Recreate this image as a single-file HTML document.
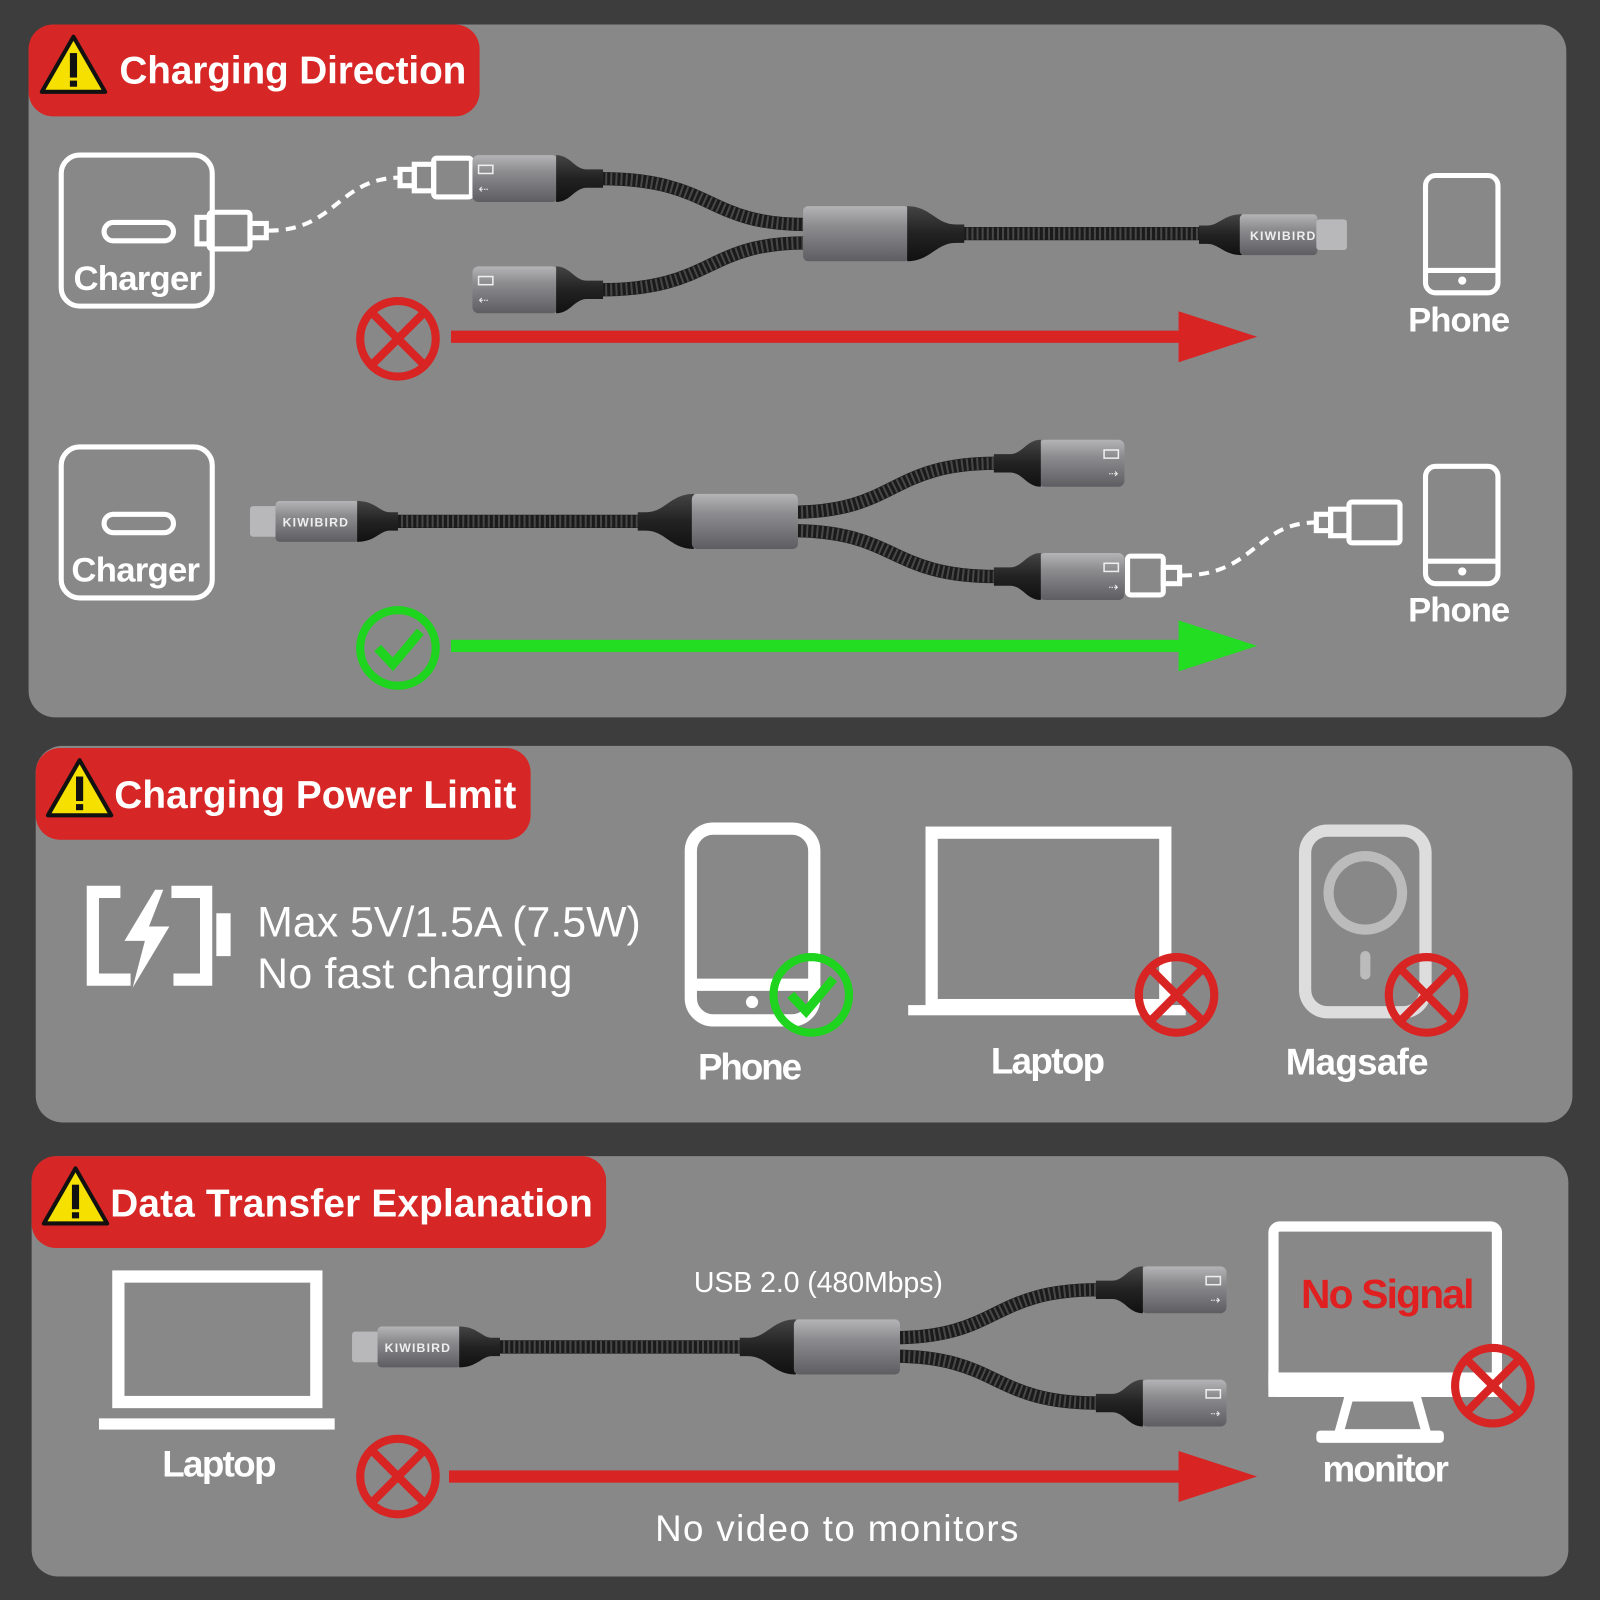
<!DOCTYPE html>
<html><head><meta charset="utf-8"><style>html,body{margin:0;padding:0;background:#3c3c3c}svg{display:block}text{font-family:"Liberation Sans",sans-serif}</style></head><body>
<svg width="1600" height="1600" viewBox="0 0 1568 1568" xmlns="http://www.w3.org/2000/svg">
<defs>
<linearGradient id="mg" x1="0" y1="0" x2="0" y2="1"><stop offset="0" stop-color="#b4b4b6"/><stop offset=".35" stop-color="#8d8d90"/><stop offset="1" stop-color="#5e5e62"/></linearGradient>
<linearGradient id="bg" x1="0" y1="0" x2="0" y2="1"><stop offset="0" stop-color="#444"/><stop offset=".5" stop-color="#222"/><stop offset="1" stop-color="#111"/></linearGradient>
<g id="fem"><rect x="0" y="-23" width="84" height="46" rx="6" fill="url(#mg)"/><path d="M82,-23 C96,-23 100,-9 112,-9 L128,-9 L128,9 L112,9 C100,9 96,23 82,23 Z" fill="url(#bg)"/><rect x="6" y="-13" width="14" height="8" fill="none" stroke="#eee" stroke-width="1.5"/><text x="6" y="14" font-size="12" fill="#eee">⇠</text></g>
<g id="spl"><rect x="0" y="-27" width="104" height="54" rx="5" fill="url(#mg)"/><path d="M102,-27 C125,-27 130,-9 150,-9 L158,-9 L158,9 L150,9 C130,9 125,27 102,27 Z" fill="url(#bg)"/></g>
<g id="splL"><path d="M55,-27 C32,-27 27,-9 8,-9 L0,-9 L0,9 L8,9 C27,9 32,27 55,27 Z" fill="url(#bg)"/><rect x="53" y="-27" width="104" height="54" rx="5" fill="url(#mg)"/></g>
<g id="mal"><path d="M0,-9 L8,-9 C20,-9 24,-20 42,-20 L42,20 C24,20 20,9 8,9 L0,9 Z" fill="url(#bg)"/><rect x="40" y="-20" width="76" height="40" rx="4" fill="url(#mg)"/><text x="50" y="5" font-size="12" fill="#eee" font-weight="bold" textLength="64">KIWIBIRD</text><rect x="115" y="-15" width="30" height="30" rx="3" fill="#b8b8ba"/></g>
<g id="malL"><rect x="0" y="-15" width="30" height="30" rx="3" fill="#b8b8ba"/><rect x="25" y="-20" width="82" height="40" rx="4" fill="url(#mg)"/><text x="32" y="5" font-size="12" fill="#eee" font-weight="bold" textLength="64">KIWIBIRD</text><path d="M105,-20 C123,-20 127,-9 137,-9 L145,-9 L145,9 L137,9 C127,9 123,20 105,20 Z" fill="url(#bg)"/></g>
<g id="warn"><path d="M0,-28 L31,26 L-31,26 Z" fill="#f5e000" stroke="#111" stroke-width="4" stroke-linejoin="round"/><rect x="-3.5" y="-12" width="7" height="24" fill="#111"/><rect x="-3.5" y="15" width="7" height="6" fill="#111"/></g>
<g id="xc"><circle r="37" fill="none" stroke="#d92424" stroke-width="8"/><path d="M-24,-24 L24,24 M24,-24 L-24,24" stroke="#d92424" stroke-width="8"/></g>
<g id="ck"><circle r="37" fill="none" stroke="#1ed41e" stroke-width="8"/><path d="M-20,0 L-5,16 L22,-16" fill="none" stroke="#1ed41e" stroke-width="9"/></g>
</defs>
<rect width="1568" height="1568" fill="#3d3d3d"/>
<!-- panels -->
<rect x="28" y="24" width="1507" height="679" rx="26" fill="#888888"/>
<rect x="35" y="731" width="1506" height="369" rx="26" fill="#888888"/>
<rect x="31" y="1133" width="1506" height="412" rx="26" fill="#888888"/>
<!-- titles -->
<rect x="28" y="24" width="442" height="90" rx="24" fill="#d62626"/>
<use href="#warn" x="72" y="64"/>
<text x="117" y="82" font-size="38" font-weight="bold" fill="#fff" textLength="340">Charging Direction</text>
<rect x="35" y="733" width="485" height="90" rx="24" fill="#d62626"/>
<use href="#warn" x="78" y="773"/>
<text x="112" y="792" font-size="38" font-weight="bold" fill="#fff" textLength="394">Charging Power Limit</text>
<rect x="31" y="1133" width="563" height="90" rx="24" fill="#d62626"/>
<use href="#warn" x="74" y="1173"/>
<text x="108" y="1192" font-size="38" font-weight="bold" fill="#fff" textLength="473">Data Transfer Explanation</text>

<g fill="none" stroke="#fff" stroke-width="5">
<!-- charger 1 -->
<rect x="60" y="152" width="148" height="148" rx="18"/>
<rect x="102" y="218" width="68" height="18" rx="9"/>
<rect x="205" y="208" width="40" height="36" rx="3"/><rect x="193" y="213" width="12" height="26"/><rect x="245" y="219" width="16" height="14"/>
<path d="M263,226 C330,226 330,175 392,174" stroke-dasharray="10 7" stroke-width="4"/>
<rect x="392" y="166" width="14" height="16"/><rect x="425" y="155" width="37" height="38" rx="3"/><rect x="406" y="161" width="19" height="26"/>
<!-- phone 1 -->
<rect x="1397" y="172" width="71" height="115" rx="10"/><line x1="1397" y1="265" x2="1468" y2="265"/>
<!-- charger 2 -->
<rect x="60" y="438" width="148" height="148" rx="18"/>
<rect x="102" y="504" width="68" height="18" rx="9"/>
<!-- phone 2 -->
<rect x="1397" y="457" width="71" height="115" rx="10"/><line x1="1397" y1="550" x2="1468" y2="550"/>
<rect x="1105" y="545" width="35" height="38" rx="3"/><rect x="1140" y="556" width="16" height="16"/>
<path d="M1158,564 C1230,564 1230,512 1290,512" stroke-dasharray="10 7" stroke-width="4"/>
<rect x="1290" y="504" width="14" height="16"/><rect x="1304" y="499" width="18" height="26"/><rect x="1322" y="492" width="50" height="40" rx="3"/>
</g>
<circle cx="1433" cy="275" r="4" fill="#fff"/><circle cx="1433" cy="560" r="4" fill="#fff"/>
<text x="135" y="284" font-size="34" fill="#fff" text-anchor="middle" font-weight="bold" textLength="126">Charger</text>
<text x="133" y="570" font-size="34" fill="#fff" text-anchor="middle" font-weight="bold" textLength="126">Charger</text>
<text x="1430" y="325" font-size="34" fill="#fff" text-anchor="middle" font-weight="bold" textLength="100">Phone</text>
<text x="1430" y="609" font-size="34" fill="#fff" text-anchor="middle" font-weight="bold" textLength="100">Phone</text>

<!-- cables -->
<g fill="none" stroke="#1b1b1b" stroke-width="13">
<path d="M588,175 C700,175 690,220 790,220"/><path d="M588,284 C700,284 690,238 790,238"/><path d="M942,229 L1178,229"/>
<path d="M388,511 L628,511"/><path d="M775,502 C880,502 870,454 976,454"/><path d="M775,520 C880,520 870,565 976,565"/>
<path d="M488,1320 L728,1320"/><path d="M875,1311 C980,1311 970,1264 1076,1264"/><path d="M875,1329 C980,1329 970,1375 1076,1375"/>
</g>
<g fill="none" stroke="#666" stroke-width="12" stroke-dasharray="2 3" opacity=".6">
<path d="M588,175 C700,175 690,220 790,220"/><path d="M588,284 C700,284 690,238 790,238"/><path d="M942,229 L1178,229"/>
<path d="M388,511 L628,511"/><path d="M775,502 C880,502 870,454 976,454"/><path d="M775,520 C880,520 870,565 976,565"/>
<path d="M488,1320 L728,1320"/><path d="M875,1311 C980,1311 970,1264 1076,1264"/><path d="M875,1329 C980,1329 970,1375 1076,1375"/>
</g>
<use href="#fem" transform="translate(463,175)"/><use href="#fem" transform="translate(463,284)"/>
<use href="#spl" transform="translate(787,229)"/><use href="#mal" transform="translate(1175,230)"/>
<use href="#malL" transform="translate(245,511)"/><use href="#splL" transform="translate(625,511)"/>
<use href="#fem" transform="translate(1102,454) scale(-1,1)"/><use href="#fem" transform="translate(1102,565) scale(-1,1)"/>
<use href="#malL" transform="translate(345,1320)"/><use href="#splL" transform="translate(725,1320)"/>
<use href="#fem" transform="translate(1202,1264) scale(-1,1)"/><use href="#fem" transform="translate(1202,1375) scale(-1,1)"/>

<!-- arrows -->
<rect x="442" y="324" width="720" height="12" fill="#d92424"/><path d="M1155,305 L1232,330 L1155,355 Z" fill="#d92424"/>
<use href="#xc" x="390" y="332"/>
<rect x="442" y="627" width="720" height="12" fill="#22dd22"/><path d="M1155,608 L1232,633 L1155,658 Z" fill="#22dd22"/>
<use href="#ck" x="390" y="635"/>

<!-- panel 2 -->
<g fill="none" stroke="#fff" stroke-width="12">
<path d="M118,874 L91,874 L91,960 L128,960 M168,874 L202,874 L202,960 L170,960"/>
<rect x="677" y="812" width="121" height="188" rx="22"/><line x1="677" y1="965" x2="798" y2="965"/>
<rect x="913" y="816" width="229" height="169"/>
</g>
<path d="M152,872 L122,922 L142,922 L130,968 L166,908 L146,908 L160,872 Z" fill="#fff"/>
<rect x="212" y="895" width="14" height="42" fill="#fff"/>
<circle cx="737" cy="982" r="6" fill="#fff"/>
<rect x="890" y="985" width="272" height="10" fill="#fff"/>
<rect x="1279" y="814" width="118" height="178" rx="22" fill="none" stroke="#ddd" stroke-width="12"/>
<circle cx="1338" cy="875" r="36" fill="none" stroke="#bbb" stroke-width="10"/>
<rect x="1333" y="932" width="10" height="28" rx="5" fill="#bbb"/>
<use href="#ck" x="795" y="975"/><use href="#xc" x="1153" y="975"/><use href="#xc" x="1398" y="975"/>
<text x="252" y="918" font-size="42" fill="#fff" textLength="376">Max 5V/1.5A (7.5W)</text>
<text x="252" y="968" font-size="42" fill="#fff" textLength="309">No fast charging</text>
<text x="735" y="1058" font-size="36" fill="#fff" text-anchor="middle" font-weight="bold" textLength="102">Phone</text>
<text x="1027" y="1052" font-size="36" fill="#fff" text-anchor="middle" font-weight="bold" textLength="112">Laptop</text>
<text x="1330" y="1053" font-size="36" fill="#fff" text-anchor="middle" font-weight="bold" textLength="140">Magsafe</text>

<!-- panel 3 -->
<rect x="116" y="1251" width="194" height="123" fill="none" stroke="#fff" stroke-width="12"/>
<rect x="97" y="1390" width="231" height="11" fill="#fff"/>
<text x="215" y="1447" font-size="36" fill="#fff" text-anchor="middle" font-weight="bold" textLength="112">Laptop</text>
<text x="802" y="1266" font-size="28" fill="#fff" text-anchor="middle" textLength="244">USB 2.0 (480Mbps)</text>
<rect x="440" y="1441" width="722" height="12" fill="#d92424"/><path d="M1155,1422 L1232,1447 L1155,1472 Z" fill="#d92424"/>
<use href="#xc" x="390" y="1447"/>
<text x="820" y="1510" font-size="36" fill="#fff" text-anchor="middle" textLength="356">No video to monitors</text>
<rect x="1248" y="1202" width="219" height="162" rx="6" fill="none" stroke="#fff" stroke-width="10"/>
<rect x="1243" y="1345" width="229" height="24" fill="#fff"/>
<path d="M1322,1369 L1388,1369 L1398,1405 L1312,1405 Z" fill="none" stroke="#fff" stroke-width="9"/>
<rect x="1290" y="1402" width="125" height="12" rx="4" fill="#fff"/>
<text x="1360" y="1282" font-size="40" fill="#e02020" text-anchor="middle" font-weight="bold" textLength="170">No Signal</text>
<use href="#xc" x="1463" y="1358"/>
<text x="1358" y="1452" font-size="36" fill="#fff" text-anchor="middle" font-weight="bold" textLength="124">monitor</text>
</svg>
</body></html>
